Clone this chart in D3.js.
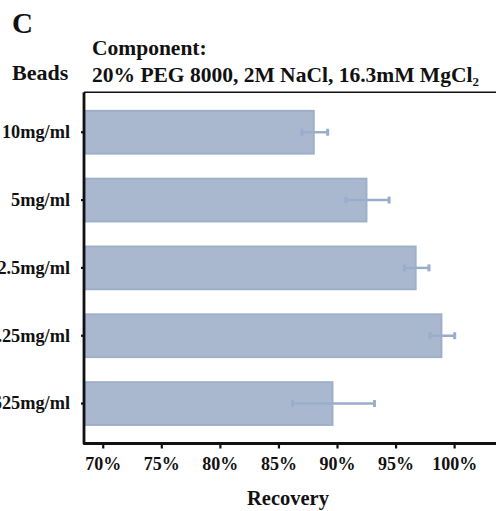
<!DOCTYPE html>
<html><head><meta charset="utf-8">
<script src="https://cdn.jsdelivr.net/npm/d3@7/dist/d3.min.js"></script>
<style>body{margin:0;background:#fff}svg{display:block}text{font-family:"Liberation Serif","Times New Roman",serif;font-weight:bold;fill:#111}</style>
</head><body>
<script>
const categories = ["10mg/ml","5mg/ml","2.5mg/ml","1.25mg/ml","0.625mg/ml"];
const values = [88.1, 92.6, 96.8, 99.0, 89.7];
const errors = [1.1, 1.85, 1.05, 1.05, 3.5];
const xTicks = [70,75,80,85,90,95,100];

const W=496,H=511;
const svg=d3.select("body").append("svg").attr("width",W).attr("height",H);
const pL=84, pR=496.3, pT=92.3, pB=443.5;
const x=d3.scaleLinear().domain([68.4,103.6]).range([pL,pR]);
const y=d3.scaleBand().domain(categories).range([pT,pB]).paddingInner(0.34).paddingOuter(0.259);

const fill="#a9b8cf", edge="#9eafc8", errC="#9aaecb";

// bars
svg.append("g").selectAll("rect").data(categories).join("rect")
  .attr("x",x(68.4)+1).attr("y",d=>y(d)+1)
  .attr("width",(d,i)=>x(values[i])-x(68.4)-2)
  .attr("height",y.bandwidth()-2)
  .attr("fill",fill).attr("stroke",edge).attr("stroke-width",2);

// error bars
const eg=svg.append("g");
categories.forEach((c,i)=>{
  const cy=y(c)+y.bandwidth()/2;
  const x0=x(values[i]-errors[i]), x1=x(values[i]+errors[i]);
  eg.append("line").attr("x1",x0).attr("x2",x1).attr("y1",cy).attr("y2",cy).attr("stroke",errC).attr("stroke-width",2.5);
  [x0,x1].forEach(xx=>eg.append("rect").attr("x",xx-1.5).attr("y",cy-3.5).attr("width",3).attr("height",7).attr("fill",errC));
});

// top line
svg.append("line").attr("x1",pL).attr("x2",W).attr("y1",pT).attr("y2",pT).attr("stroke","#111").attr("stroke-width",1.6);
// frame left+bottom
svg.append("path").attr("d",`M${pL},${pT}V${pB}H${W}`).attr("fill","none").attr("stroke","#111").attr("stroke-width",2.8).attr("stroke-linejoin","round");

// x axis
const xa=svg.append("g").attr("transform",`translate(0,${pB})`)
  .call(d3.axisBottom(x).tickValues(xTicks).tickFormat(d=>d+"%").tickSize(5).tickPadding(9));
xa.select(".domain").remove();
xa.selectAll("line").attr("stroke","#111").attr("stroke-width",2.2);
xa.selectAll("text").attr("font-size",18).attr("fill","#111").style("font-family",'"Liberation Serif",serif').style("font-weight","bold");

// y axis
const ya=svg.append("g").attr("transform",`translate(${pL},0)`)
  .call(d3.axisLeft(y).tickSize(3).tickPadding(11));
ya.select(".domain").remove();
ya.selectAll("line").attr("stroke","#111").attr("stroke-width",2.2);
ya.selectAll("text").attr("font-size",18.3).attr("fill","#111").style("font-family",'"Liberation Serif",serif').style("font-weight","bold");

// labels
svg.append("text").attr("x",12).attr("y",33).attr("font-size",29).text("C");
svg.append("text").attr("x",12).attr("y",80).attr("font-size",22).text("Beads");
svg.append("text").attr("x",92).attr("y",55).attr("font-size",21.5).text("Component:");
svg.append("text").attr("x",92).attr("y",82).attr("font-size",21.5).text("20% PEG 8000, 2M NaCl, 16.3mM MgCl₂");
svg.append("text").attr("x",288).attr("y",505).attr("text-anchor","middle").attr("font-size",20.5).text("Recovery");
</script>
</body></html>
